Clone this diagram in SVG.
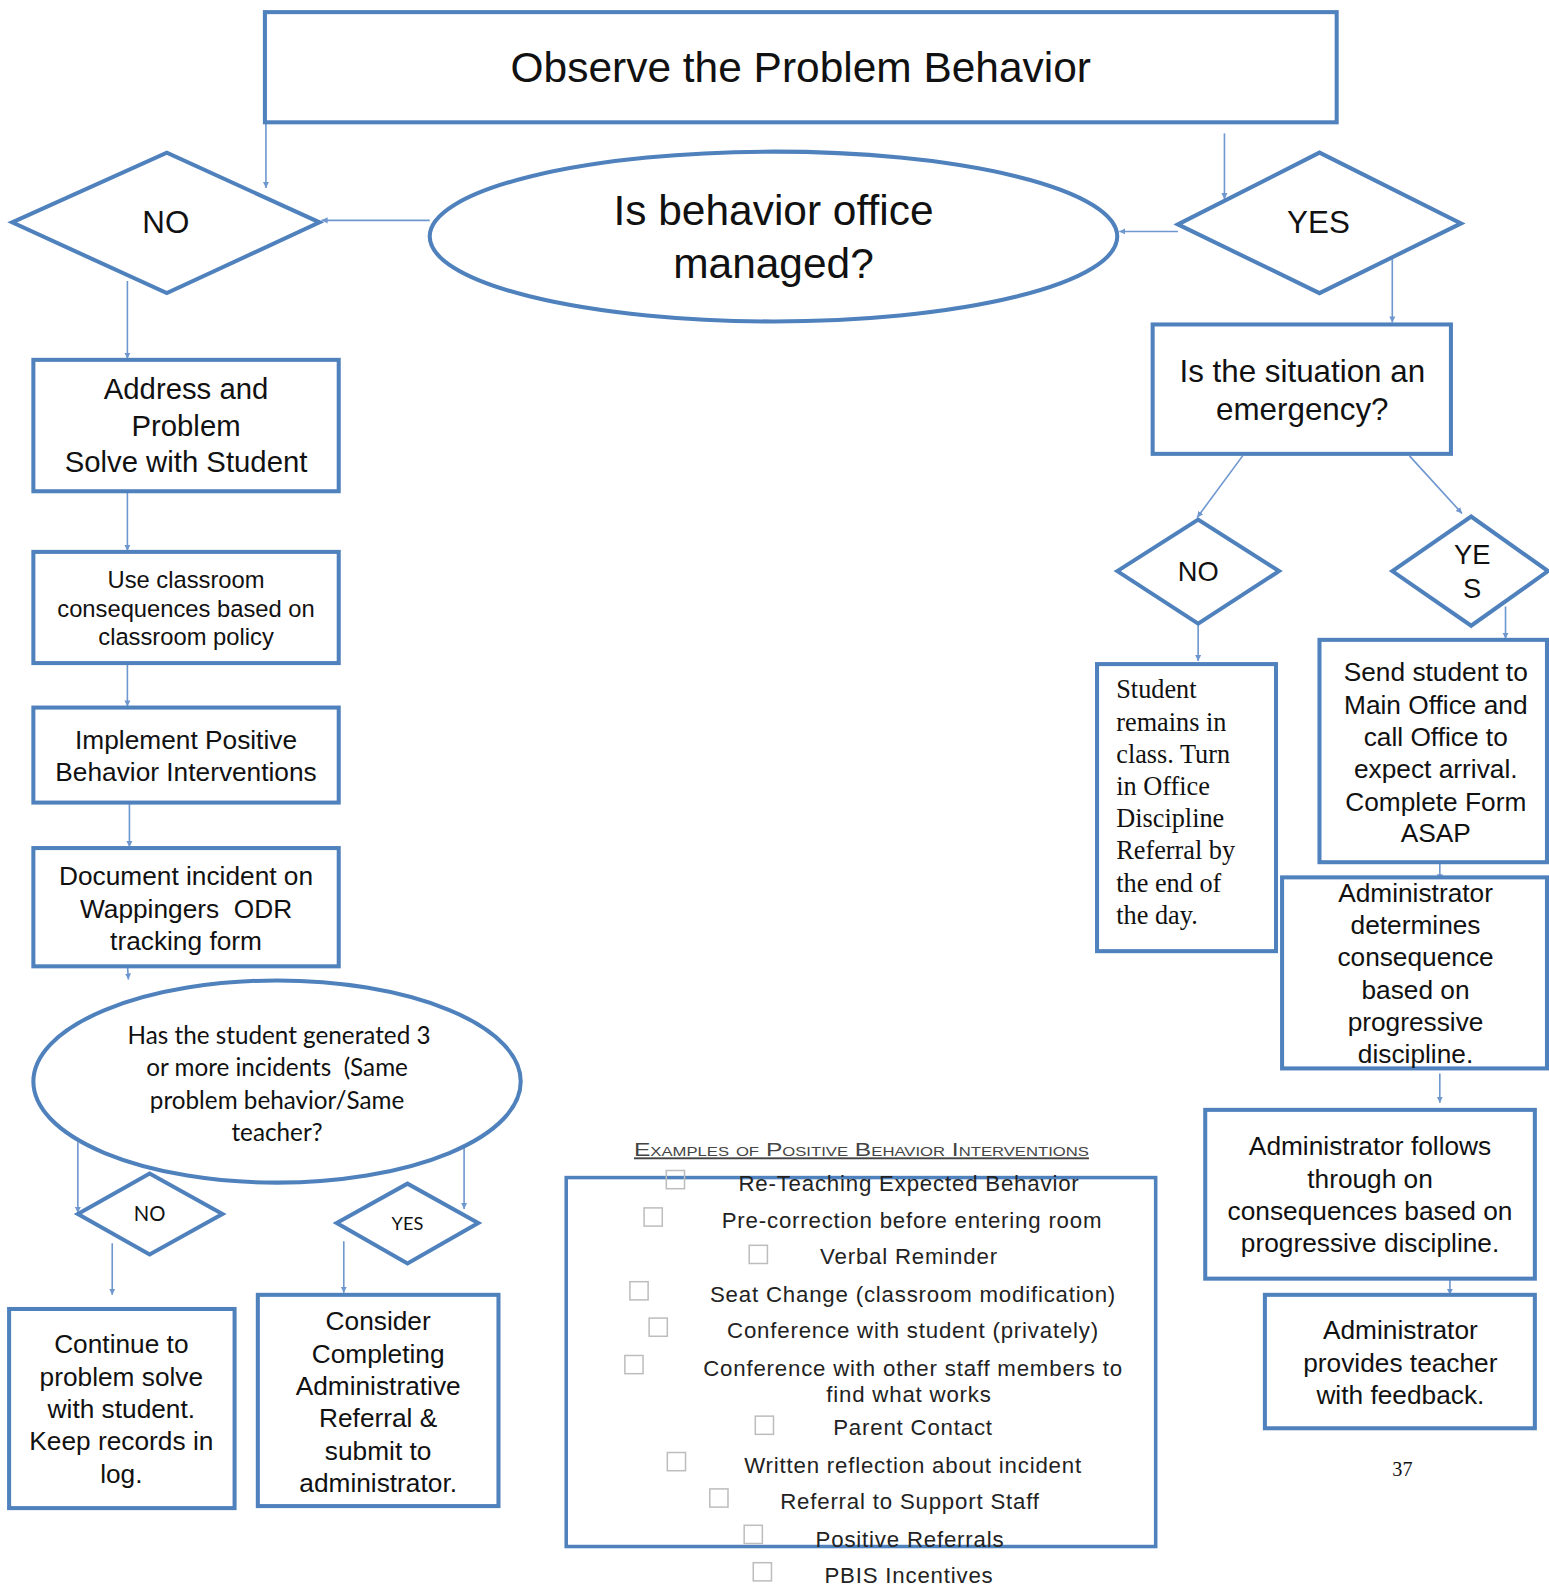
<svg xmlns="http://www.w3.org/2000/svg" width="1549" height="1585" viewBox="0 0 1549 1585">
<defs>
<marker id="ah" markerUnits="userSpaceOnUse" markerWidth="7" markerHeight="7" refX="6" refY="3.5" orient="auto">
<path d="M0,0.5 L6,3.5 L0,6.5 z" fill="#6f97cf"/>
</marker>
<style>
.box{fill:#fff;stroke:#4f81bd;stroke-width:4}
.dia{fill:#fff;stroke:#4f81bd;stroke-width:4;stroke-linejoin:miter}
.c{stroke:#6f97cf;stroke-width:1.6;fill:none;marker-end:url(#ah)}
.s{font-family:"Liberation Sans",Arial,sans-serif;fill:#111;text-anchor:middle}
.cal{font-family:Lato,"Open Sans",sans-serif;fill:#111;text-anchor:middle}
.ser{font-family:"Liberation Serif","Times New Roman",serif;fill:#111}
.li{font-family:"Liberation Sans",Arial,sans-serif;fill:#222;text-anchor:middle;font-size:22px;letter-spacing:0.8px}
.cb{fill:none;stroke:#bdbdbd;stroke-width:1.5}
</style>
</defs>
<rect width="1549" height="1585" fill="#fff"/>
<g transform="scale(1.0111,1.0108)">
<g id="connectors">
<line class="c" x1="263" y1="122" x2="263" y2="186"/>
<line class="c" x1="425" y1="218" x2="318" y2="218"/>
<line class="c" x1="1211" y1="132" x2="1211" y2="197"/>
<line class="c" x1="1165" y1="229" x2="1107" y2="229"/>
<line class="c" x1="1377" y1="255" x2="1377" y2="319"/>
<line class="c" x1="126" y1="278" x2="126" y2="355"/>
<line class="c" x1="126" y1="486" x2="126" y2="545"/>
<line class="c" x1="126" y1="656" x2="126" y2="699"/>
<line class="c" x1="128" y1="794" x2="128" y2="838"/>
<line class="c" x1="125" y1="940" x2="127" y2="969"/>
<line class="c" x1="77" y1="1130" x2="77" y2="1200"/>
<line class="c" x1="459" y1="1128" x2="459" y2="1196"/>
<line class="c" x1="111" y1="1230" x2="111" y2="1281"/>
<line class="c" x1="340" y1="1228" x2="340" y2="1279"/>
<line class="c" x1="1229" y1="451" x2="1184" y2="512"/>
<line class="c" x1="1394" y1="451" x2="1446" y2="508"/>
<line class="c" x1="1185" y1="617" x2="1185" y2="654"/>
<line class="c" x1="1489" y1="600" x2="1489" y2="632"/>
<line class="c" x1="1424" y1="843" x2="1424" y2="871"/>
<line class="c" x1="1424" y1="1062" x2="1424" y2="1091"/>
<line class="c" x1="1434" y1="1266" x2="1434" y2="1281"/>
</g>

<g id="observe">
<rect class="box" x="262" y="12" width="1060" height="109"/>
<text class="s" x="792" y="81" font-size="42">Observe the Problem Behavior</text>
</g>

<g id="office-managed">
<ellipse class="box" cx="765" cy="234" rx="340" ry="84"/>
<text class="s" x="765" y="223" font-size="42">Is behavior office</text>
<text class="s" x="765" y="275" font-size="42">managed?</text>
</g>

<g id="no-top">
<polygon class="dia" points="12,220 165,151 316,220 165,290"/>
<text class="s" x="164" y="231" font-size="31">NO</text>
</g>

<g id="yes-top">
<polygon class="dia" points="1165,222 1305,151 1445,221 1305,290"/>
<text class="s" x="1304" y="231" font-size="31">YES</text>
</g>

<g id="address">
<rect class="box" x="33" y="356" width="302" height="130"/>
<text class="s" x="184" y="395" font-size="29">Address and</text>
<text class="s" x="184" y="431" font-size="29">Problem</text>
<text class="s" x="184" y="467" font-size="29">Solve with Student</text>
</g>

<g id="classroom">
<rect class="box" x="33" y="546" width="302" height="110"/>
<text class="s" x="184" y="582" font-size="23.5">Use classroom</text>
<text class="s" x="184" y="610" font-size="23.5">consequences based on</text>
<text class="s" x="184" y="638" font-size="23.5">classroom policy</text>
</g>

<g id="implement">
<rect class="box" x="33" y="700" width="302" height="94"/>
<text class="s" x="184" y="741" font-size="26">Implement Positive</text>
<text class="s" x="184" y="773" font-size="26">Behavior Interventions</text>
</g>

<g id="document">
<rect class="box" x="33" y="839" width="302" height="117"/>
<text class="s" x="184" y="876" font-size="26">Document incident on</text>
<text class="s" x="184" y="908" font-size="26" xml:space="preserve">Wappingers  ODR</text>
<text class="s" x="184" y="940" font-size="26">tracking form</text>
</g>

<g id="three-incidents">
<ellipse class="box" cx="274" cy="1070" rx="241" ry="100"/>
<text class="cal" x="276" y="1033" font-size="24">Has the student generated 3</text>
<text class="cal" x="274" y="1065" font-size="24" xml:space="preserve">or more incidents  (Same</text>
<text class="cal" x="274" y="1097" font-size="24">problem behavior/Same</text>
<text class="cal" x="274" y="1129" font-size="24">teacher?</text>
</g>

<g id="no-small">
<polygon class="dia" points="77,1201 148,1161 220,1201 148,1241"/>
<text class="cal" x="148" y="1208" font-size="20">NO</text>
</g>

<g id="yes-small">
<polygon class="dia" points="333,1210 403,1171 473,1210 403,1250"/>
<text class="cal" x="403" y="1217" font-size="18">YES</text>
</g>

<g id="continue">
<rect class="box" x="9" y="1295" width="223" height="197"/>
<text class="s" x="120" y="1339" font-size="26">Continue to</text>
<text class="s" x="120" y="1371" font-size="26">problem solve</text>
<text class="s" x="120" y="1403" font-size="26">with student.</text>
<text class="s" x="120" y="1435" font-size="26">Keep records in</text>
<text class="s" x="120" y="1467" font-size="26">log.</text>
</g>

<g id="consider">
<rect class="box" x="255" y="1281" width="238" height="209"/>
<text class="s" x="374" y="1316" font-size="26">Consider</text>
<text class="s" x="374" y="1348" font-size="26">Completing</text>
<text class="s" x="374" y="1380" font-size="26">Administrative</text>
<text class="s" x="374" y="1412" font-size="26">Referral &amp;</text>
<text class="s" x="374" y="1444" font-size="26">submit to</text>
<text class="s" x="374" y="1476" font-size="26">administrator.</text>
</g>

<g id="emergency">
<rect class="box" x="1140" y="321" width="295" height="128"/>
<text class="s" x="1288" y="378" font-size="31">Is the situation an</text>
<text class="s" x="1288" y="416" font-size="31">emergency?</text>
</g>

<g id="no-right">
<polygon class="dia" points="1105,565 1185,514 1265,565 1185,617"/>
<text class="s" x="1185" y="575" font-size="27">NO</text>
</g>

<g id="yes-right">
<polygon class="dia" points="1377,565 1455,511 1531,565 1455,619"/>
<text class="s" x="1456" y="558" font-size="27">YE</text>
<text class="s" x="1456" y="592" font-size="27">S</text>
</g>

<g id="remains">
<rect class="box" x="1085" y="657" width="177" height="284"/>
<text class="ser" x="1104" y="691" font-size="26">Student</text>
<text class="ser" x="1104" y="723" font-size="26">remains in</text>
<text class="ser" x="1104" y="755" font-size="26">class. Turn</text>
<text class="ser" x="1104" y="787" font-size="26">in Office</text>
<text class="ser" x="1104" y="818" font-size="26">Discipline</text>
<text class="ser" x="1104" y="850" font-size="26">Referral by</text>
<text class="ser" x="1104" y="882" font-size="26">the end of</text>
<text class="ser" x="1104" y="914" font-size="26">the day.</text>
</g>

<g id="send">
<rect class="box" x="1305" y="633" width="225" height="220"/>
<text class="s" x="1420" y="674" font-size="26">Send student to</text>
<text class="s" x="1420" y="706" font-size="26">Main Office and</text>
<text class="s" x="1420" y="738" font-size="26">call Office to</text>
<text class="s" x="1420" y="770" font-size="26">expect arrival.</text>
<text class="s" x="1420" y="802" font-size="26">Complete Form</text>
<text class="s" x="1420" y="833" font-size="26">ASAP</text>
</g>

<g id="determines">
<rect class="box" x="1268" y="868" width="262" height="189"/>
<text class="s" x="1400" y="892" font-size="26">Administrator</text>
<text class="s" x="1400" y="924" font-size="26">determines</text>
<text class="s" x="1400" y="956" font-size="26">consequence</text>
<text class="s" x="1400" y="988" font-size="26">based on</text>
<text class="s" x="1400" y="1020" font-size="26">progressive</text>
<text class="s" x="1400" y="1052" font-size="26">discipline.</text>
</g>

<g id="follows">
<rect class="box" x="1192" y="1098" width="326" height="167"/>
<text class="s" x="1355" y="1143" font-size="26">Administrator follows</text>
<text class="s" x="1355" y="1175" font-size="26">through on</text>
<text class="s" x="1355" y="1207" font-size="26">consequences based on</text>
<text class="s" x="1355" y="1239" font-size="26">progressive discipline.</text>
</g>

<g id="feedback">
<rect class="box" x="1251" y="1281" width="267" height="132"/>
<text class="s" x="1385" y="1325" font-size="26">Administrator</text>
<text class="s" x="1385" y="1357" font-size="26">provides teacher</text>
<text class="s" x="1385" y="1389" font-size="26">with feedback.</text>
</g>

<text class="ser" x="1387" y="1460" font-size="20" text-anchor="middle">37</text>

<g id="examples">
<text x="852" y="1144" font-family="'Liberation Sans',Arial,sans-serif" font-size="19" fill="#444" text-anchor="middle" font-variant="small-caps" text-decoration="underline" textLength="450" lengthAdjust="spacingAndGlyphs">Examples of Positive Behavior Interventions</text>
<rect x="560" y="1165" width="583" height="365" fill="none" stroke="#4f81bd" stroke-width="3.5"/>
<rect class="cb" x="659" y="1158" width="18" height="18"/>
<text class="li" x="899" y="1178">Re-Teaching Expected Behavior</text>
<rect class="cb" x="637" y="1195" width="18" height="18"/>
<text class="li" x="902" y="1215">Pre-correction before entering room</text>
<rect class="cb" x="741" y="1232" width="18" height="18"/>
<text class="li" x="899" y="1251">Verbal Reminder</text>
<rect class="cb" x="623" y="1268" width="18" height="18"/>
<text class="li" x="903" y="1288">Seat Change (classroom modification)</text>
<rect class="cb" x="642" y="1304" width="18" height="18"/>
<text class="li" x="903" y="1324">Conference with student (privately)</text>
<rect class="cb" x="618" y="1341" width="18" height="18"/>
<text class="li" x="903" y="1361">Conference with other staff members to</text>
<text class="li" x="899" y="1387">find what works</text>
<rect class="cb" x="747" y="1401" width="18" height="18"/>
<text class="li" x="903" y="1420">Parent Contact</text>
<rect class="cb" x="660" y="1437" width="18" height="18"/>
<text class="li" x="903" y="1457">Written reflection about incident</text>
<rect class="cb" x="702" y="1473" width="18" height="18"/>
<text class="li" x="900" y="1493">Referral to Support Staff</text>
<rect class="cb" x="736" y="1509" width="18" height="18"/>
<text class="li" x="900" y="1530">Positive Referrals</text>
<rect class="cb" x="745" y="1546" width="18" height="18"/>
<text class="li" x="899" y="1566">PBIS Incentives</text>
</g>
</g>
</svg>
